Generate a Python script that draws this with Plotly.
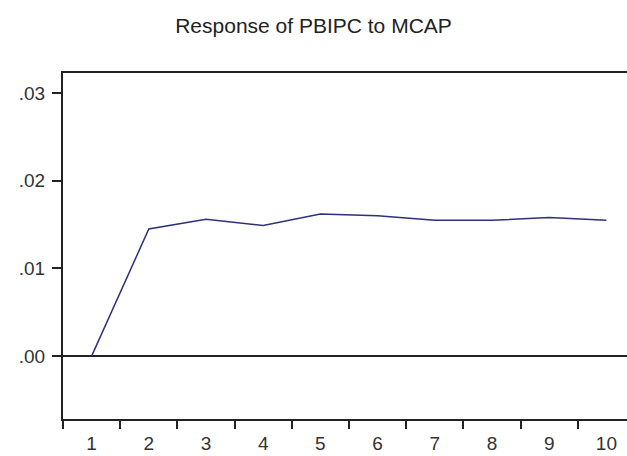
import plotly.graph_objects as go

# Impulse response of PBIPC to a shock in MCAP, periods 1-10
periods = ["1", "2", "3", "4", "5", "6", "7", "8", "9", "10"]
response = [0.0, 0.0145, 0.0156, 0.0149, 0.0162, 0.0160, 0.0155, 0.0155, 0.0158, 0.0155]

y_tickvals = [0.00, 0.01, 0.02, 0.03]
y_ticktext = [".00", ".01", ".02", ".03"]

title_text = "Response of PBIPC to MCAP"

axis_color = "#222222"
text_color = "#333333"
font_family = "Liberation Sans, Arial, sans-serif"

fig = go.Figure()
fig.add_trace(go.Scatter(
    x=periods,
    y=response,
    mode="lines",
    line=dict(color="#2e307a", width=1.5),
    showlegend=False,
    hoverinfo="skip",
))

fig.update_layout(
    width=627,
    height=456,
    margin=dict(l=63, r=0, t=73, b=37),
    paper_bgcolor="white",
    plot_bgcolor="white",
    title=dict(
        text=title_text,
        x=0.5,
        xanchor="center",
        xref="container",
        y=1 - 26 / 456,
        yref="container",
        yanchor="middle",
        font=dict(family=font_family, size=21, color="#222222"),
    ),
    xaxis=dict(
        type="category",
        range=[-0.5, 9.36],
        tickson="boundaries",
        ticks="outside",
        ticklen=8,
        tickwidth=1.5,
        tickcolor=axis_color,
        showline=True,
        linecolor=axis_color,
        linewidth=2,
        mirror=True,
        showgrid=False,
        zeroline=False,
        ticklabelstandoff=6,
        tickfont=dict(family=font_family, size=19, color=text_color),
    ),
    yaxis=dict(
        range=[-0.00718, 0.0323],
        tickvals=y_tickvals,
        ticktext=y_ticktext,
        ticks="outside",
        ticklen=9,
        tickwidth=1.5,
        tickcolor=axis_color,
        showline=True,
        linecolor=axis_color,
        linewidth=2,
        mirror=False,
        showgrid=False,
        zeroline=True,
        zerolinecolor=axis_color,
        zerolinewidth=1.5,
        ticklabelstandoff=3,
        tickfont=dict(family=font_family, size=19, color=text_color),
    ),
)

fig.write_html("out.html")
